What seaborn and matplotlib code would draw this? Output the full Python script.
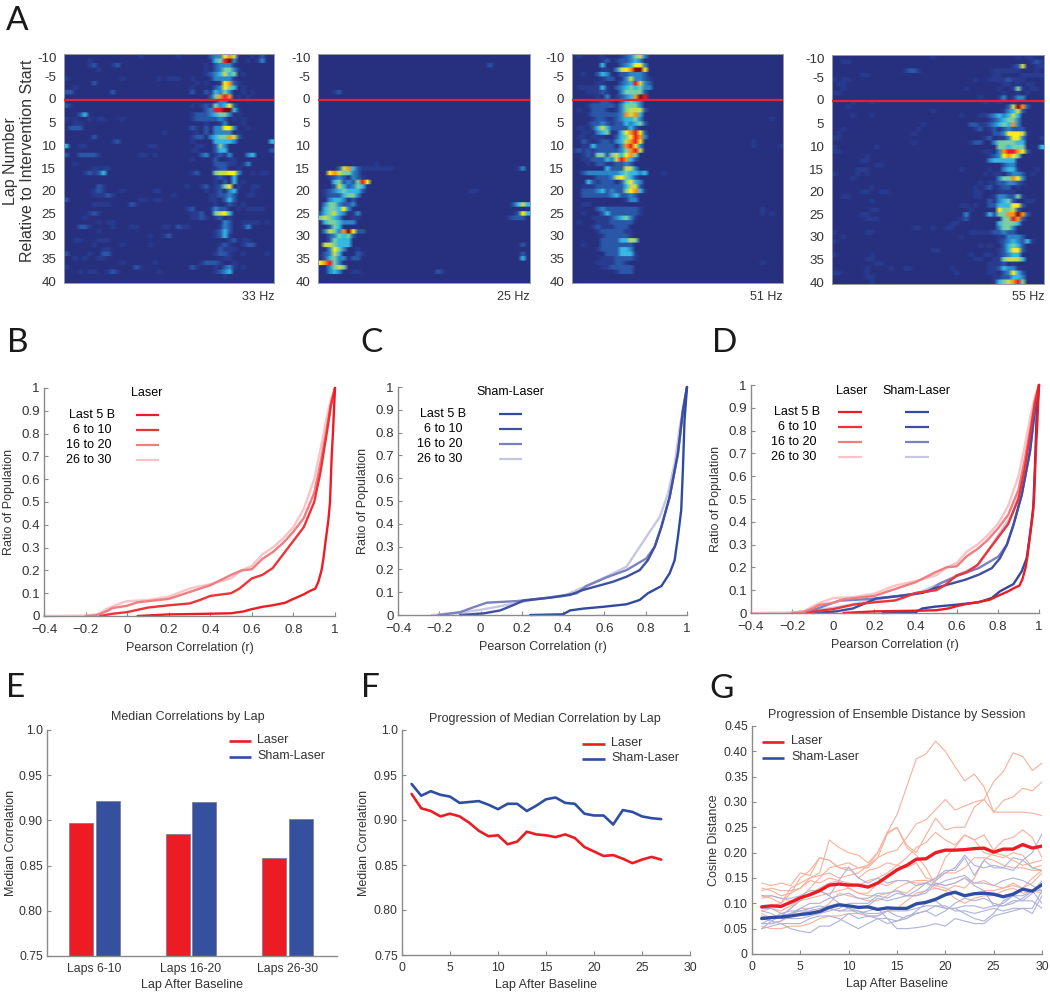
import numpy as np
import pandas as pd
import matplotlib
matplotlib.use("Agg")
import matplotlib.pyplot as plt
from matplotlib.colors import LinearSegmentedColormap
from matplotlib.lines import Line2D
import seaborn as sns

W, H = 1050, 992
sns.set_style("white")
plt.rcParams["font.family"] = ["Liberation Sans", "DejaVu Sans"]
plt.rcParams["text.color"] = "#333333"
plt.rcParams["axes.labelcolor"] = "#333333"
plt.rcParams["xtick.color"] = "#333333"
plt.rcParams["ytick.color"] = "#333333"

# ---------- data: firing-rate maps, rows are "column:levels" (level 0-10, a = 10)
rate_map_1 = [
 "16:1 24:1 31:233 34:786 40:1 42:2", "5:1 31:1 32:45 34:9a7 36:3 39:1 41:1 42:3", "5:12 10:12 30:1 32:23 34:33 36:1",
 "7:1 30:1 32:2 33:3 34:55 36:3 37:1", "30:1 31:2 32:3 33:4 34:64 36:5 38:1", "0:1 12:1 20:1 22:1 23:11 27:1 31:1 32:3 33:3 34:33 36:1",
 "6:2 28:1 30:1 33:1 34:78 36:2 37:1", "2:1 27:1 32:2 33:3 34:75 36:4 38:1", "0:22 10:2 27:2 30:2 31:1 32:4 33:3 34:5 35:3 38:1 40:1",
 "31:2 32:5 33:8 34:9 35:8 37:1 39:1", "32:1 33:3 34:3", "0:21 27:1 29:1 30:2 31:1 32:5 33:3 34:4 35:7 36:2",
 "30:23 32:99aa 36:4 37:1", "3:24 27:1 28:2 29:2 30:2 31:3 32:4 33:5 34:5 35:3 37:1", "0:1 2:1 5:1 7:1 8:1 12:1 27:1 28:2 29:2 30:2 31:2 32:2 33:3 34:2 36:1 38:1",
 "2:11 30:1 33:1 34:3 38:1", "1:222 27:2 28:1 30:2 32:3 33:3 34:7 35:7 36:3 39:1", "21:1 28:1 30:2 32:3 33:3 34:3 35:3 37:1",
 "6:2 27:1 28:2 29:2 31:3 32:4 33:5 34:5 35:8 36:6 37:2", "10:12 27:1 32:4 33:4 34:4 35:4 36:3 44:4", "0:4 3:1 4:1 18:1 19:1 28:1 29:1 32:2 33:5 34:3",
 "27:1 28:1 32:2 33:4 34:4 44:2", "0:2 3:2 4:2 5:2 6:2 7:1 16:1 17:1 19:1 29:2 30:3 32:1 33:2 34:1 35:3 39:3 40:4", "27:1 32:2 35:1 36:1",
 "2:1 32:2 33:2 34:2 35:1 36:1 38:1 39:3", "6:1 7:1 8:1 9:1 32:1 33:2 34:2 37:1", "4:1 5:2 6:1 7:2 8:4 27:1 28:2 32:5 33:6 34:6 35:7 36:7 37:3 40:1 42:1 43:1",
 "32:1 33:2 34:1 36:4", "32:1 34:2 36:4 38:1", "7:2 8:1 26:1 29:1 30:2 32:1 33:2 34:5 35:7 37:1 40:1 41:1",
 "6:1 7:2 8:1 12:1 19:1 20:1 30:1 32:1 33:2 35:3 36:4 40:1", "6:1 7:1 8:1 9:2 10:1 23:1 31:1 32:1 33:2 34:2 35:3 36:2 39:1 40:1", "0:2 16:1 17:1 19:1 20:1 31:1 32:1 34:2 35:4 36:2",
 "6:1 7:1 8:1 9:1 14:2 15:1 32:1 35:2 36:1 38:1", "26:1 27:2 31:1 32:3 33:2 34:2 37:1 39:1 40:1 41:1 42:1", "5:1 6:2 7:1 27:1 28:1 29:2 32:5 33:6 34:7 35:4",
 "4:1 27:1 28:1 29:2 30:1 32:1 33:2 35:1", "7:1 9:1 10:1 34:3 35:2 38:1 39:1 40:1 41:1 43:1", "3:2 4:2 5:1 10:1 14:1 15:1 21:1 22:1 24:2 25:1 26:1 33:1 34:3 35:2 38:1 39:3",
 "7:1 32:1 33:2 34:4 35:2", "18:1 21:1 22:2 32:1 33:2 34:4 35:1", "2:1 3:1 7:1 8:1 9:1 35:1 36:2 38:1 39:1",
 "6:1 12:1 18:1 33:1 34:2 35:1 38:1 39:2 40:2", "8:1 9:1 33:2 34:1 35:1 36:1", "0:2 5:1 8:2 9:2 32:1 33:2 34:2 35:1 38:1 43:1",
 "2:1 4:1 7:1 8:1 34:1 35:1", "12:1 19:1 29:1 30:2 31:2 32:2 33:1 36:1", "0:1 15:2 16:1 27:2 28:1 32:1 34:2 35:3 36:1 38:1",
 "3:1 5:1 6:1 9:1 10:2 11:1 20:1 32:1 33:2 34:3 35:4", "34:1", "",
]
rate_map_2 = [
 "", "", "36:2", "", "", "", "", "", "3:12", "", "", "", "", "", "", "", "", "", "", "", "", "", "", "",
 "12:1", "4:2 5:6 6:8 7:4 8:2 9:1 10:1 11:1 12:1 13:1 14:1 15:1 42:1 43:3", "2:7 3:8 4:6 5:5 6:5 7:3 8:2", "2:1 3:2 4:3 5:2 7:3 8:2 9:1",
 "3:4 4:5 5:2 6:3 7:2 8:5 9:9 10:7", "3:2 4:6 5:4 6:2 7:3 8:5 9:4", "1:1 2:2 3:3 4:4 5:5 6:4 7:4 8:4 9:2 32:1 33:1", "1:1 2:2 3:2 4:2 5:4 6:5 7:5 8:3",
 "2:3 3:4 4:4 5:3 7:2", "1:3 2:5 3:5 4:3 5:2 6:2 7:3 41:2 42:4 43:6 44:4", "1:4 2:5 3:5 4:4 5:7 6:3", "0:2 1:4 2:5 3:6 4:4 5:3 7:1 8:3 42:2 43:7 44:4",
 "0:5 1:6 2:5 3:4 4:3 7:1 8:1 40:1 41:2 42:2 43:2", "1:4 2:5 3:5 4:4 5:3 6:3 7:3", "2:2 3:5 4:4", "1:3 2:6 3:5 4:3 5:8 6:a 7:7 8:2 9:2",
 "2:2 3:3 4:5 5:4 6:5 7:2", "2:2 3:5 4:4 5:4 6:4", "1:6 2:6 3:5 4:4 5:4 6:4 43:2", "2:3 3:7 4:5 5:3 8:1", "1:2 2:3 3:6 4:4 8:2 9:1 43:2",
 "1:2 2:4 3:5 4:3 5:3 7:2 8:2 43:4", "0:7 1:8 2:9 3:5 4:3", "2:3 3:5 4:6 5:5", "2:3 3:4 4:3 7:1 8:1 25:2 26:1", "", "",
]
rate_map_3 = [
 "1:1 6:1 10:1 11:2 12:3 13:5 14:6 15:3", "6:1 7:2 9:1 10:2 11:2 12:3 13:4 14:3", "6:4 10:2 11:3 12:4 13:7 14:7 15:3",
 "6:1 7:1 9:3 10:6 11:7 12:8 13:a 14:a 15:7", "2:1 5:2 6:4 7:3 10:2 11:2 12:3 13:3 14:3 15:2", "6:1 7:2 8:2 10:1 11:3 12:6 13:3 14:3 15:2 16:1",
 "5:1 6:1 10:2 11:3 12:4 13:9 14:6 15:3 16:2", "1:1 2:1 3:1 4:1 5:1 6:4 7:1 9:2 10:3 11:4 12:5 13:4 14:5 15:3 16:3", "3:1 4:1 5:1 6:2 7:1 10:3 11:5 12:5 13:5 14:5 15:2",
 "5:1 7:3 9:1 10:2 11:3 12:4 13:8 14:a 15:9", "4:1 5:1 6:2 7:2 8:1 10:2 11:4 12:5 13:4 14:3", "3:1 4:2 5:2 6:2 7:2 8:2 9:1 10:3 11:5 12:5 13:5 14:3",
 "1:1 4:2 5:2 6:2 7:1 9:1 10:3 11:5 12:6 13:6 14:6 15:2", "3:1 4:2 5:2 6:2 7:2 8:2 9:2 10:3 11:8 12:6 13:8 14:4", "4:1 5:2 6:2 7:1 8:1 9:2 10:3 11:4 12:4 13:5 14:3 42:1",
 "3:1 4:2 5:2 6:3 7:2 8:1 9:2 10:2 11:4 12:3 13:4 14:5 15:2", "1:1 2:1 4:2 5:4 6:6 7:4 8:2 9:2 10:2 11:2 12:4 13:2", "2:1 3:1 5:3 6:4 7:5 9:1 10:4 11:7 12:8 13:9 14:7 15:2",
 "1:1 2:1 4:1 5:1 6:1 9:2 10:4 11:5 12:7 13:9 14:8 15:3", "2:2 3:1 5:1 6:2 7:2 8:1 9:3 10:4 11:6 12:8 13:9 14:7 38:1", "2:1 3:1 4:4 5:2 6:2 7:2 8:2 10:3 11:8 12:9 13:7 14:3 38:1 44:1",
 "0:1 1:2 2:1 3:2 4:1 5:2 6:2 7:2 8:2 9:2 10:3 11:5 12:8 13:9 14:6", "2:1 3:2 4:1 5:5 6:5 7:2 8:5 9:6 10:4 11:7 12:8 13:5", "2:1 3:1 4:2 5:2 6:2 7:4 8:3 9:6 10:9 11:8 12:4 13:2",
 "3:1 5:2 6:2 7:1 8:1 9:2 10:2 11:3 12:2", "7:4 8:2 9:2 10:2 11:6 12:6 13:3", "2:2 3:3 4:3 5:3 6:3 7:3 8:3 9:3 10:4 11:5 12:4 13:4 14:3 15:4 19:1",
 "5:2 6:2 7:2 8:3 9:6 10:7 11:5 12:4 13:2", "3:4 4:2 5:1 6:2 7:2 8:2 10:2 11:5 12:7 13:4 14:3", "2:1 3:1 4:1 5:2 6:2 7:2 8:2 9:2 10:2 11:4 12:6 13:6 14:2",
 "2:2 3:2 4:2 5:3 6:4 7:2 8:3 9:2 10:2 11:5 12:7 13:8 14:4 15:1", "2:2 3:2 4:2 5:2 6:2 7:2 8:3 9:4 10:2 11:2 12:3 13:2", "11:1 12:3 13:3", "2:1 3:1",
 "5:2 6:3 7:2 8:2 9:2 10:2 11:2 12:2 13:2 14:1 40:1", "2:1 6:2 7:4 8:2 9:2 10:2 11:2 12:2 13:2 14:1 40:1 42:1", "4:1 5:1 6:1 7:1 8:2 9:3 10:4 11:5 12:3 13:1",
 "1:1 5:1 6:1 7:1 8:2 9:2 10:2 11:2 12:2", "4:1 5:2 6:1 7:1 8:1 9:2 10:2 11:2", "5:1 6:2 7:2 8:2 9:2 10:2 11:1 12:1", "6:1 7:2 8:2 9:2 10:2 11:2 12:1",
 "6:2 7:2 8:2 9:2 10:4 11:4 12:6 13:5", "2:1 6:2 7:2 8:2 9:2 10:2 11:2 12:2", "5:1 6:2 7:2 8:2 9:2 10:4 11:4 12:3", "7:2 8:2 9:2 10:4 11:4 12:4 13:1",
 "6:1 7:1 8:1 9:2 10:2 11:2 12:2 13:1", "5:1 6:1 7:1 8:1 9:2 10:2 11:1 40:1", "6:1 7:1 8:2 9:2 10:2 11:2 12:2", "9:1 10:2 11:2 12:2", "", "",
]
rate_map_4 = [
 "21:1 39:1 41:1 42:1", "2:11 42:1 43:2 44:1", "38:1 39:2 40:6 43:1 44:1", "15:1 16:2 17:2 18:1 34:1 35:1 36:1 37:1 38:1 39:1 43:1", "6:1 7:1 34:1 35:1 40:1 41:1 42:1 43:1 44:1",
 "0:1 2:1 3:1 30:1 33:1 34:1 35:1 36:1 37:2 38:1 39:1 40:1", "1:1 2:1 36:1 37:1 39:1 41:1 42:1", "2:1 28:1 35:1 38:1 39:5 40:1 42:1 43:1", "0:1 1:1 36:1 39:1 41:1",
 "31:1 35:1 36:3 38:1 39:3 40:3", "4:1 8:1 32:1 35:1 38:1", "3:1 37:2 38:6 39:a 40:8 41:2", "21:1 36:1 37:3 38:4 39:6 40:2", "4:1 8:1 27:1 31:1 32:1 33:2 34:3 35:4 36:3 37:4 38:6 39:4",
 "33:1 34:2 35:3 36:4 37:5 38:5 39:3", "19:1 29:2 30:2 31:1 32:1 33:2 34:3 35:4 36:5 37:4 38:8 39:3", "2:1 18:1 30:1 31:2 33:1 34:2 36:2 37:3 38:2 39:2 40:2",
 "1:1 17:1 34:2 35:2 36:3 37:7 38:7 39:7 40:6 41:1", "0:1 1:1 32:1 33:2 35:1 36:1 37:3 38:7 39:7 40:3 44:1", "17:1 29:1 30:2 31:2 34:3 35:5 36:5 37:5 38:5 39:4 40:4",
 "0:1 9:1 35:5 36:5 37:4 38:5 39:5 40:5 44:4", "0:1 1:1 32:1 33:1 35:3 36:8 37:9 38:9 39:8 40:7 41:2", "7:1 33:1 34:2 35:3 36:7 37:8 38:7 39:5", "6:1 7:1 33:3 34:4 35:4 36:4 37:4 38:4",
 "9:1 10:1 36:2 37:3 38:3", "5:1 6:1 7:1 27:1 33:1 36:3 37:4 38:4 39:1 43:1", "0:1 5:1 7:1 32:1 34:1 35:1 37:2 38:3 39:3 40:2 42:1", "4:1 35:3 36:5 37:5 38:8 39:7 40:3",
 "31:1 33:1 34:1 35:2 36:2 37:3 38:3 39:2 40:1", "8:1 30:1 32:1 33:2 35:1 36:2 37:2 39:1", "6:1 7:1 10:1 11:1 30:1 31:1 35:1 36:1 37:1 38:1", "2:1 3:1 30:1 31:1 34:1 35:3 36:3 37:2 38:2 39:5 40:1",
 "8:1 33:2 34:1 35:3 36:4 37:5 38:2 41:1 42:1", "27:1 28:1 30:1 33:2 34:2 35:4 36:4 37:4 38:7 39:7 40:2", "8:1 9:1 29:1 35:7 36:5 37:5 38:6 39:2",
 "6:1 7:1 28:3 32:1 33:4 34:2 35:5 36:5 37:8 38:8 39:a 40:8 41:2", "7:1 8:1 9:1 27:1 28:2 36:5 37:5 38:9 39:8 40:2", "25:1 26:1 35:4 36:5 37:5 38:5 39:4", "17:1 18:1 21:1 24:1 25:1 35:3 36:5 37:5 38:3",
 "0:1 7:1 8:1 29:1 30:1 31:1 32:1 33:1 34:2 35:2 36:3 37:2 38:2", "2:1 27:1 35:1 36:1 37:3 38:3 39:3 40:2", "0:1 35:1 36:2 37:3 38:4 39:3 40:2 41:4 42:1", "31:1 33:1 36:2 37:4 38:5 39:4 40:2",
 "21:1 22:1 35:1 36:2 37:4 38:7 39:7 40:2", "0:1 8:1 29:1 32:1 33:1 35:1 36:2 37:3 38:4 39:4", "7:1 8:1 30:1 31:1 34:1 35:1 36:5 37:6 38:6 39:6 40:4", "9:1 10:1 33:1 34:1 35:1 36:2 38:1",
 "7:1 12:1 15:1 16:1 25:1 33:1 34:1 35:2 36:4 37:3 38:3 39:1", "0:1 1:1 7:1 26:1 33:1 34:1 36:2 37:3 38:7 39:4 40:2", "7:1 8:1 34:1 35:1 36:2 37:2 38:4 39:4 40:3", "8:1 34:1 35:4 36:5 37:6 38:8 39:9 40:5",
]
peak_rates = ["33 Hz", "25 Hz", "51 Hz", "55 Hz"]
lap_labels = ["-10", "-5", "0", "5", "10", "15", "20", "25", "30", "35", "40"]
lap_label_rows = [0.74, 5.0, 10.0, 15.3, 20.3, 25.5, 30.5, 35.5, 40.5, 45.6, 50.7]

# ---------- data: cumulative curves (correlation, ratio)
cdf_windows = ["Last 5 B", "6 to 10", "16 to 20", "26 to 30"]
laser_r = [
 [.05,.2,.4,.5,.56,.6,.65,.7,.76,.8,.85,.88,.905,.92,.935,.944,.955,.968,.976,.98,.984,.99,.995,1],
 [-.13,-.1,-.07,0,.05,.1,.2,.3,.35,.4,.5,.54,.58,.6,.65,.7,.75,.8,.85,.9,.93,.96,.98,1],
 [-.2,-.15,-.1,-.07,0,.05,.2,.3,.4,.5,.55,.6,.65,.7,.75,.8,.85,.9,.93,.96,.98,1],
 [-.4,-.2,-.14,-.1,-.05,0,.1,.2,.3,.4,.5,.55,.6,.65,.7,.75,.8,.85,.9,.93,.96,.98,1],
]
laser_ratio = [
 [0,.007,.01,.012,.02,.03,.04,.047,.058,.075,.095,.11,.12,.15,.2,.25,.33,.42,.5,.6,.7,.8,.9,1],
 [0,.005,.01,.017,.027,.037,.047,.055,.07,.088,.1,.12,.15,.165,.18,.21,.27,.33,.39,.5,.63,.8,.92,1],
 [0,.003,.02,.035,.045,.06,.075,.105,.135,.18,.2,.205,.25,.28,.32,.37,.43,.54,.67,.82,.93,1],
 [0,.002,.008,.03,.05,.065,.07,.085,.12,.14,.165,.2,.22,.27,.3,.34,.39,.47,.6,.73,.87,.95,1],
]
sham_r = [
 [.24,.40,.433,.497,.594,.707,.771,.81,.876,.916,.94,.956,.972,.98,.988,1],
 [-.1,.014,.095,.16,.207,.336,.433,.497,.578,.642,.707,.771,.81,.844,.876,.916,.956,.98,1],
 [-.203,-.1,-.034,.03,.175,.336,.465,.513,.61,.707,.803,.844,.876,.916,.956,.98,1],
 [-.236,-.1,.014,.127,.272,.4,.497,.61,.707,.755,.803,.868,.908,.94,.965,1],
]
sham_ratio = [
 [0,.003,.02,.028,.036,.047,.066,.095,.127,.183,.24,.343,.46,.635,.854,1],
 [0,.007,.02,.044,.063,.076,.088,.11,.13,.146,.168,.197,.24,.3,.387,.518,.708,.9,1],
 [0,.012,.034,.054,.061,.077,.095,.127,.165,.197,.248,.3,.387,.518,.708,.883,1],
 [0,.01,.025,.044,.069,.083,.121,.168,.212,.277,.343,.43,.533,.664,.825,1],
]

# ---------- data: bars and medians
bar_laps = ["Laps 6-10", "Laps 16-20", "Laps 26-30"]
bar_laser = [.897, .885, .858]
bar_sham = [.921, .920, .902]
laps_f = list(range(1, 28))
median_laser = [.929,.913,.910,.904,.907,.904,.897,.888,.882,.883,.873,.876,.887,.884,.883,.881,.884,.880,.870,.865,.860,.861,.857,.852,.856,.859,.856]
median_sham = [.940,.927,.932,.928,.926,.919,.920,.921,.917,.912,.918,.918,.910,.916,.923,.925,.919,.918,.907,.905,.905,.895,.911,.909,.904,.902,.901]

# ---------- data: ensemble distance
laps_g = list(range(1, 31))
dist_laser_mean = [.093,.095,.094,.102,.111,.117,.125,.136,.138,.136,.136,.132,.140,.153,.166,.175,.187,.188,.200,.205,.205,.206,.208,.209,.201,.207,.207,.216,.209,.213]
dist_sham_mean = [.070,.072,.073,.075,.078,.080,.084,.092,.097,.095,.092,.093,.088,.091,.090,.090,.099,.102,.108,.117,.122,.115,.119,.120,.118,.113,.118,.128,.124,.137]
dist_laser_sessions = [
 [.115,.11,.10,.12,.13,.15,.155,.16,.15,.155,.16,.175,.20,.24,.275,.33,.385,.395,.42,.40,.37,.342,.355,.33,.28,.28,.28,.28,.278,.273],
 [.13,.125,.115,.12,.15,.165,.19,.185,.17,.165,.17,.17,.19,.20,.205,.23,.257,.265,.285,.305,.284,.292,.30,.305,.34,.36,.397,.39,.362,.377],
 [.09,.095,.10,.13,.14,.15,.16,.225,.21,.20,.195,.18,.20,.24,.25,.215,.20,.235,.268,.245,.25,.25,.29,.305,.28,.303,.31,.327,.322,.34],
 [.14,.135,.14,.135,.16,.155,.19,.185,.17,.17,.15,.165,.17,.18,.175,.19,.21,.22,.24,.225,.215,.235,.225,.235,.205,.225,.23,.245,.23,.19],
 [.125,.13,.125,.125,.13,.145,.14,.15,.145,.14,.135,.145,.15,.16,.175,.17,.18,.15,.145,.19,.21,.235,.225,.20,.195,.19,.20,.195,.17,.175],
 [.085,.09,.085,.095,.11,.12,.13,.14,.145,.13,.12,.12,.14,.135,.145,.145,.14,.14,.15,.16,.16,.17,.19,.19,.185,.175,.17,.17,.165,.165],
 [.06,.06,.065,.075,.09,.09,.085,.10,.12,.115,.11,.105,.105,.115,.13,.14,.145,.145,.14,.135,.14,.15,.14,.145,.135,.13,.135,.13,.14,.16],
 [.055,.05,.05,.055,.055,.06,.07,.075,.075,.08,.08,.075,.075,.085,.09,.105,.12,.125,.13,.125,.11,.10,.11,.115,.115,.125,.13,.12,.125,.12],
 [.11,.115,.11,.105,.105,.11,.115,.12,.125,.13,.12,.115,.115,.12,.125,.12,.135,.14,.13,.125,.135,.13,.15,.185,.20,.195,.185,.175,.18,.185],
 [.08,.07,.075,.09,.11,.13,.15,.17,.175,.18,.17,.175,.19,.237,.25,.21,.195,.17,.135,.13,.12,.115,.12,.125,.125,.13,.14,.13,.15,.165],
]
dist_sham_sessions = [
 [.05,.065,.075,.09,.105,.12,.125,.115,.145,.172,.15,.14,.15,.14,.145,.145,.135,.14,.15,.165,.165,.19,.155,.185,.17,.17,.165,.185,.17,.165],
 [.06,.07,.075,.08,.09,.10,.10,.11,.115,.12,.11,.11,.12,.12,.125,.115,.115,.125,.145,.16,.17,.195,.175,.17,.175,.17,.19,.185,.20,.237],
 [.09,.09,.08,.075,.08,.085,.09,.095,.10,.09,.08,.085,.09,.07,.065,.07,.08,.085,.095,.095,.085,.085,.08,.085,.09,.085,.09,.09,.08,.115],
 [.05,.055,.06,.06,.06,.07,.075,.075,.07,.06,.05,.06,.07,.07,.05,.05,.052,.055,.06,.055,.07,.065,.06,.06,.075,.08,.085,.09,.09,.125],
 [.115,.115,.11,.11,.115,.125,.125,.115,.10,.095,.09,.095,.11,.105,.11,.115,.115,.12,.14,.135,.14,.15,.135,.125,.095,.10,.115,.105,.12,.145],
 [.085,.08,.07,.07,.07,.075,.08,.09,.085,.085,.085,.08,.08,.085,.085,.085,.09,.095,.095,.09,.09,.095,.095,.09,.095,.095,.10,.11,.125,.10],
 [.07,.065,.06,.05,.045,.042,.055,.055,.065,.08,.07,.075,.07,.06,.065,.075,.08,.085,.075,.085,.10,.11,.105,.11,.10,.095,.105,.105,.105,.09],
 [.06,.06,.065,.08,.085,.085,.08,.085,.09,.10,.10,.10,.115,.11,.12,.115,.125,.14,.135,.145,.15,.155,.14,.14,.135,.145,.15,.145,.135,.125],
 [.075,.07,.08,.085,.085,.09,.095,.09,.085,.09,.085,.075,.075,.085,.075,.07,.085,.10,.105,.09,.09,.08,.07,.065,.08,.105,.115,.115,.125,.125],
]

# ---------- style
RED = "#ed1c24"
BLUE = "#2f4ea3"
REDS = ["#ed1c24", "#ee3338", "#f27c80", "#f9c4c6"]
BLUES = ["#2f4a9f", "#3f4fa2", "#7b80bf", "#c6c7e3"]
SPINE = "#8a8a8a"
jet_like = LinearSegmentedColormap.from_list("jet_like", [
    "#27307f", "#293c90", "#2a58a8", "#2c86c8", "#36b7e4", "#78cfa6",
    "#c8dc50", "#fbed21", "#f7941d", "#ed1c24", "#7a0f10"])

fig = plt.figure(figsize=(W / 100, H / 100), dpi=100)


def px_axes(left, right, top, bottom):
    return fig.add_axes([left / W, 1 - bottom / H, (right - left) / W, (bottom - top) / H])


def px_text(x, y, s, size=10, ha="center", va="center", **kw):
    fig.text(x / W, 1 - y / H, s, fontsize=size, ha=ha, va=va, **kw)


def px_line(x0, x1, y, color, lw=1.6):
    fig.add_artist(Line2D([x0 / W, x1 / W], [1 - y / H, 1 - y / H], color=color, lw=lw, solid_capstyle="butt"))


def parse_map(rows):
    m = np.zeros((51, 45))
    for i, row in enumerate(rows):
        for tok in row.split():
            c, levels = tok.split(":")
            for k, ch in enumerate(levels):
                m[i, int(c) + k] = int(ch, 16)
    return m


def style_axes(ax, size=8.8, xpad=4):
    sns.despine(ax=ax)
    for s in ("left", "bottom"):
        ax.spines[s].set_color(SPINE)
        ax.spines[s].set_linewidth(1.0)
    ax.tick_params(direction="in", length=3, width=0.8, color=SPINE, labelsize=size, left=True, bottom=True)
    ax.tick_params(axis="y", pad=3)
    ax.tick_params(axis="x", pad=xpad)


def draw_line(ax, x, y, color, lw):
    sns.lineplot(x=x, y=y, color=color, lw=lw, ax=ax, errorbar=None, legend=False)


# ---------- A
frames = [(64, 274, 54, 283), (318, 530, 54, 283), (572, 783, 54, 283), (832, 1044, 55, 284)]
for rows, frame, rate in zip([rate_map_1, rate_map_2, rate_map_3, rate_map_4], frames, peak_rates):
    ax = px_axes(*frame)
    grid = parse_map(rows)
    sns.heatmap(grid, cmap=jet_like, vmin=0, vmax=10, cbar=False, ax=ax,
                xticklabels=False, yticklabels=False, linewidths=0)
    # soft horizontal smear of the printed maps: rows stay distinct, the cells blur sideways
    ax.imshow(np.repeat(grid, 5, axis=0), cmap=jet_like, vmin=0, vmax=10, extent=(0, 45, 51, 0), aspect="auto",
              interpolation="bilinear", zorder=2)
    ax.set_xlim(0, 45)
    ax.set_ylim(51, 0)
    ax.axhline(10.3, color="#e6212e", lw=1.6, zorder=3)
    ax.set_yticks(lap_label_rows)
    ax.set_yticklabels(lap_labels, rotation=0, fontsize=9.6)
    ax.tick_params(axis="y", length=0, pad=5.5, left=False)
    ax.set_xlabel("")
    ax.set_ylabel("")
    for s in ("left", "bottom", "right", "top"):
        ax.spines[s].set_visible(True)
        ax.spines[s].set_color("#9a9aa8")
        ax.spines[s].set_linewidth(0.7)
    px_text(frame[1], 297, rate, size=9, ha="right")
px_text(10, 161, "Lap Number", size=11.5, rotation=90)
px_text(28, 161, "Relative to Intervention Start", size=11.5, rotation=90)

# ---------- B, C, D
cdf_frames = [(44, 335, 388, 616), (398, 687, 387, 615), (751, 1039, 385, 613)]
x_ticks = [-.4, -.2, 0, .2, .4, .6, .8, 1]
x_tick_labels = ["\u22120.4", "\u22120.2", "0", "0.2", "0.4", "0.6", "0.8", "1"]
y_ticks = [0, .1, .2, .3, .4, .5, .6, .7, .8, .9, 1]
y_tick_labels = ["0", "0.1", "0.2", "0.3", "0.4", "0.5", "0.6", "0.7", "0.8", "0.9", "1"]


def cdf_panel(frame, groups):
    ax = px_axes(*frame)
    for rs, ratios, colors in groups:
        for r, ratio, col in reversed(list(zip(rs, ratios, colors))):
            draw_line(ax, r, ratio, col, 1.7)
    ax.set_xlim(-.4, 1)
    ax.set_ylim(0, 1)
    for ln in ax.lines:
        ln.set_clip_on(False)
    ax.set_xticks(x_ticks)
    ax.set_xticklabels(x_tick_labels)
    ax.set_yticks(y_ticks)
    ax.set_yticklabels(y_tick_labels)
    ax.set_xlabel("Pearson Correlation (r)", fontsize=9, labelpad=4)
    ax.set_ylabel("Ratio of Population", fontsize=9, labelpad=4.5)
    style_axes(ax, size=9.6, xpad=6)
    return ax


cdf_panel(cdf_frames[0], [(laser_r, laser_ratio, REDS)])
cdf_panel(cdf_frames[1], [(sham_r, sham_ratio, BLUES)])
cdf_panel(cdf_frames[2], [(sham_r, sham_ratio, BLUES), (laser_r, laser_ratio, REDS)])

LEG = 9
px_text(147, 393, "Laser", size=LEG, color="black")
for i, (lab, tx) in enumerate(zip(cdf_windows, [92, 92, 89, 89])):
    px_text(tx, 415 + 15 * i, lab, size=LEG, color="black")
    px_line(136, 159, 415 + 15 * i, REDS[i])
px_text(510, 392, "Sham-Laser", size=LEG, color="black")
for i, (lab, tx) in enumerate(zip(cdf_windows, [443, 443, 440, 440])):
    px_text(tx, 414 + 15 * i, lab, size=LEG, color="black")
    px_line(499, 522, 414 + 15 * i, BLUES[i])
px_text(852, 391, "Laser", size=LEG, color="black")
px_text(916, 391, "Sham-Laser", size=LEG, color="black")
for i, (lab, tx) in enumerate(zip(cdf_windows, [797, 797, 794, 794])):
    px_text(tx, 412 + 15 * i, lab, size=LEG, color="black")
    px_line(838, 862, 412 + 15 * i, REDS[i])
    px_line(905, 929, 412 + 15 * i, BLUES[i])

# ---------- E
ax = px_axes(47, 337, 730, 956)
bars = pd.DataFrame({
    "lap": bar_laps * 2,
    "median": bar_laser + bar_sham,
    "group": ["Laser"] * 3 + ["Sham-Laser"] * 3,
})
sns.barplot(data=bars, x="lap", y="median", hue="group", palette=[RED, "#34509f"], width=0.55, gap=0.1,
            ax=ax, legend=False, edgecolor="#7d7f90", linewidth=0.6, saturation=1)
ax.set_xlim(-0.49, 2.51)
ax.set_ylim(.75, 1.0)
ax.set_yticks([.75, .8, .85, .9, .95, 1.0])
ax.set_yticklabels(["0.75", "0.80", "0.85", "0.90", "0.95", "1.0"])
ax.set_xlabel("Lap After Baseline", fontsize=9, labelpad=3)
ax.set_ylabel("Median Correlation", fontsize=9, labelpad=1.5)
style_axes(ax, xpad=5)
ax.tick_params(axis="x", length=0)
px_text(188, 717, "Median Correlations by Lap", size=9)
px_line(229, 251, 741, RED, 1.9)
px_line(229, 251, 757, BLUE, 1.9)
px_text(257, 740, "Laser", size=LEG, ha="left")
px_text(257, 756, "Sham-Laser", size=LEG, ha="left")

# ---------- F
ax = px_axes(402, 690, 730, 955)
draw_line(ax, laps_f, median_laser, RED, 1.9)
draw_line(ax, laps_f, median_sham, BLUE, 1.9)
ax.set_xlim(0, 30)
ax.set_ylim(.75, 1.0)
ax.set_xticks(range(0, 31, 5))
ax.set_yticks([.75, .8, .85, .9, .95, 1.0])
ax.set_yticklabels(["0.75", "0.80", "0.85", "0.90", "0.95", "1.0"])
ax.set_xlabel("Lap After Baseline", fontsize=9, labelpad=3.5)
ax.set_ylabel("Median Correlation", fontsize=9, labelpad=3)
style_axes(ax, xpad=5)
px_text(545, 719, "Progression of Median Correlation by Lap", size=9)
px_line(582, 605, 744, RED, 1.9)
px_line(582, 605, 759, BLUE, 1.9)
px_text(611, 743, "Laser", size=LEG, ha="left")
px_text(611, 758, "Sham-Laser", size=LEG, ha="left")

# ---------- G
ax = px_axes(752, 1042, 726, 954)
for series in dist_laser_sessions:
    draw_line(ax, laps_g, series, "#f9b09a", 0.8)
for series in dist_sham_sessions:
    draw_line(ax, laps_g, series, "#aeb1dc", 0.8)
draw_line(ax, laps_g, dist_laser_mean, RED, 2.4)
draw_line(ax, laps_g, dist_sham_mean, BLUE, 2.4)
ax.set_xlim(0, 30)
ax.set_ylim(0, .45)
ax.set_xticks(range(0, 31, 5))
ax.set_yticks([0, .05, .1, .15, .2, .25, .3, .35, .4, .45])
ax.set_yticklabels(["0", "0.05", "0.10", "0.15", "0.20", "0.25", "0.30", "0.35", "0.40", "0.45"])
ax.set_xlabel("Lap After Baseline", fontsize=9, labelpad=4)
ax.set_ylabel("Cosine Distance", fontsize=9, labelpad=3)
style_axes(ax, xpad=5)
px_text(897, 715, "Progression of Ensemble Distance by Session", size=9)
px_line(762, 784, 742, RED, 1.9)
px_line(762, 784, 758, BLUE, 1.9)
px_text(791, 741, "Laser", size=LEG, ha="left")
px_text(791, 757, "Sham-Laser", size=LEG, ha="left")

# ---------- panel letters
for letter, x, y in [("A", 6, 30), ("B", 7, 352), ("C", 360, 352), ("D", 712, 352), ("E", 6, 697), ("F", 361, 697), ("G", 709, 698)]:
    px_text(x, y, letter, size=24, ha="left", va="baseline", family=["Lato", "DejaVu Sans"], color="#1a1a1a")

fig.savefig("out.png", dpi=100)
